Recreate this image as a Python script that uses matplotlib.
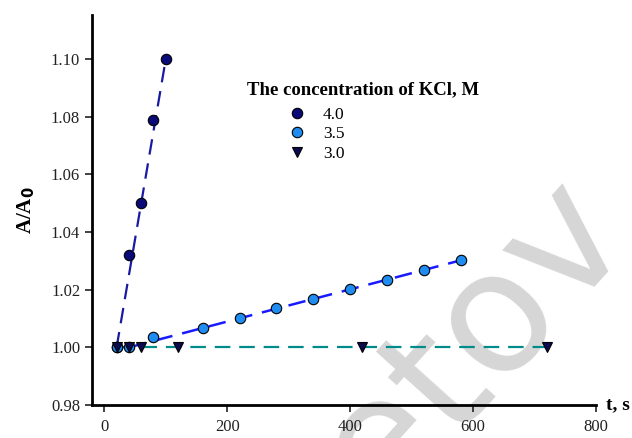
import matplotlib.pyplot as plt

plt.rcParams['font.family'] = ['Liberation Serif', 'DejaVu Serif']

# dados
t_40 = [20, 40, 60, 80, 100]
a_40 = [1.000, 1.032, 1.050, 1.079, 1.100]

t_35 = [20, 40, 80, 160, 220, 280, 340, 400, 460, 520, 580]
a_35 = [1.000, 1.000, 1.0035, 1.0068, 1.0102, 1.0135, 1.0168, 1.0202, 1.0235, 1.0268, 1.0302]

t_30 = [20, 40, 60, 120, 420, 720]
a_30 = [1.000, 1.000, 1.000, 1.000, 1.000, 1.000]

# retas de ajuste
fit_40_t = [20, 100]
fit_40_a = [1.000, 1.100]
fit_35_t = [40, 580]
fit_35_a = [1.000, 1.0302]
fit_30_t = [20, 720]
fit_30_a = [1.000, 1.000]

fig = plt.figure(figsize=(6.32, 4.38), dpi=100)
ax = fig.add_axes([0.1456, 0.0753, 0.7975, 0.8905])
ax.patch.set_alpha(0)

# marca d'água (atrás dos dados)
fig.text(0.748, 0.22, 'etov', fontsize=122, color='#d6d6d6', rotation=48,
         ha='center', va='center', zorder=-1, family='DejaVu Sans')

ax.plot(fit_30_t, fit_30_a, color='#008b8b', lw=1.6, dashes=(7, 4), zorder=2)
ax.plot(fit_35_t, fit_35_a, color='#1a1aff', lw=1.8, dashes=(7, 4), zorder=2)
ax.plot(fit_40_t, fit_40_a, color='#1a1aa0', lw=1.6, dashes=(7, 4), zorder=2)

ax.plot(t_40, a_40, 'o', color='#0a0a78', mec='black', mew=0.8, ms=7.5, label='4.0', zorder=3)
ax.plot(t_35, a_35, 'o', color='#1e8cf0', mec='black', mew=0.8, ms=7.5, label='3.5', zorder=3)
ax.plot(t_30, a_30, 'v', color='#0a0a50', mec='black', mew=0.8, ms=7.5, label='3.0', zorder=4)

ax.set_xlim(-20, 800)
ax.set_ylim(0.98, 1.1153)
ax.set_xticks([0, 200, 400, 600, 800])
ax.set_yticks([0.98, 1.00, 1.02, 1.04, 1.06, 1.08, 1.10])
ax.set_yticklabels(['0.98', '1.00', '1.02', '1.04', '1.06', '1.08', '1.10'])
ax.tick_params(direction='out', length=5, width=1.2, labelsize=12, colors='#222222')
ax.tick_params(axis='x', pad=5)

for s in ['top', 'right']:
    ax.spines[s].set_visible(False)
for s in ['left', 'bottom']:
    ax.spines[s].set_linewidth(2)

ax.set_ylabel('A/A$_\\mathbf{0}$', fontsize=15, fontweight='bold', labelpad=10)
ax.text(1.02, 0.0, 't, s', transform=ax.transAxes, fontsize=14, fontweight='bold',
        ha='left', va='center')

ax.text(0.3075, 0.808, 'The concentration of KCl, M', transform=ax.transAxes,
        fontsize=13.5, fontweight='bold', ha='left', va='center')
ax.legend(loc='upper left', bbox_to_anchor=(0.381, 0.765), frameon=False, fontsize=12.5,
          borderaxespad=0, borderpad=0, handlelength=1.5, handletextpad=0.75,
          labelspacing=0.2)

plt.savefig('out.png', dpi=100)
